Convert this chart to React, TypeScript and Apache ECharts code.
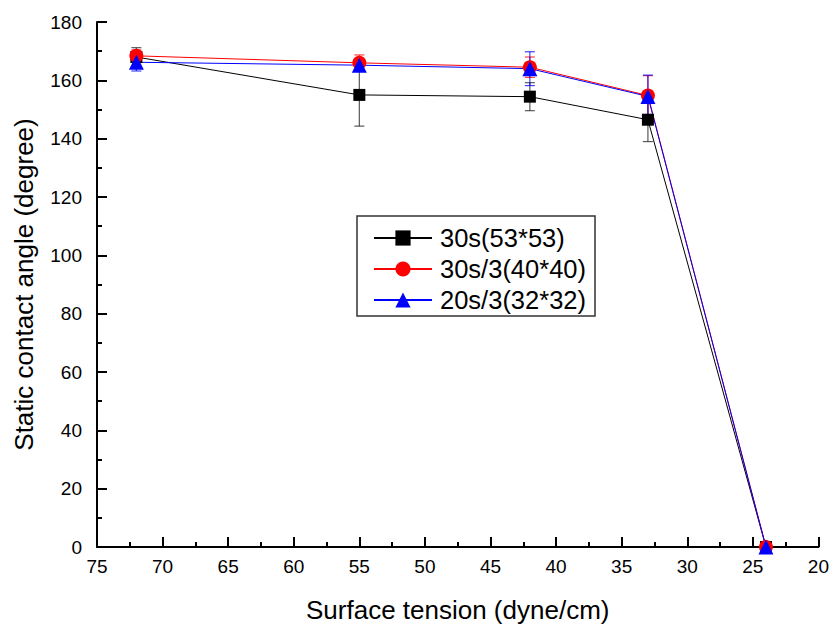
import React, { useEffect, useRef } from "react";
import * as echarts from "echarts";

const xValues = [72, 55, 42, 33, 24];
const blackY = [168, 155, 154.4, 146.5, 0];
const blackErr = [3.2, 10.7, 4.8, 7.5, 0];
const redY = [168.4, 166, 164.5, 154.8, 0];
const redErr = [2, 2.7, 3.5, 6.8, 0];
const blueY = [166.2, 165.2, 164, 154.5, 0];
const blueErr = [3, 2, 5.8, 7.3, 0];
const seriesNames = ["30s(53*53)", "30s/3(40*40)", "20s/3(32*32)"];

const FONT = "'Liberation Sans', Arial, sans-serif";

function pts(ys: number[]) {
  return xValues.map((x, i) => [x, ys[i]]);
}
function errPts(ys: number[], es: number[]) {
  return xValues.map((x, i) => [x, ys[i], ys[i] - es[i], ys[i] + es[i]]);
}

function errSeries(ys: number[], es: number[], color: string) {
  return {
    type: "custom",
    silent: true,
    z: 1,
    data: errPts(ys, es),
    renderItem: (params: any, api: any) => {
      const x = api.value(0);
      const lo = api.value(2);
      const hi = api.value(3);
      const pHi = api.coord([x, hi]);
      const pLo = api.coord([x, lo]);
      const half = 5;
      const style = { stroke: color, lineWidth: 1.2, opacity: 0.75 };
      return {
        type: "group",
        children: [
          { type: "line", shape: { x1: pHi[0], y1: pHi[1], x2: pLo[0], y2: pLo[1] }, style },
          { type: "line", shape: { x1: pHi[0] - half, y1: pHi[1], x2: pHi[0] + half, y2: pHi[1] }, style },
          { type: "line", shape: { x1: pLo[0] - half, y1: pLo[1], x2: pLo[0] + half, y2: pLo[1] }, style },
        ],
      };
    },
  };
}

export default function App() {
  const ref = useRef<HTMLDivElement>(null);
  useEffect(() => {
    document.body.style.margin = "0";
    const chart = echarts.init(ref.current!, null, { renderer: "svg" });
    const lineSeries = (name: string, ys: number[], color: string, symbol: string, size: number) => ({
      name,
      type: "line",
      data: pts(ys),
      symbol,
      symbolSize: size,
      z: 3,
      lineStyle: { color, width: 1 },
      itemStyle: { color },
    });
    chart.setOption({
      animation: false,
      backgroundColor: "#fff",
      grid: { left: 97, right: 13, top: 22, bottom: 84, containLabel: false },
      xAxis: {
        type: "value",
        inverse: true,
        min: 20,
        max: 75,
        interval: 5,
        name: "Surface tension (dyne/cm)",
        nameLocation: "middle",
        nameGap: 50,
        nameTextStyle: { fontSize: 26, color: "#000", fontFamily: FONT },
        axisLine: { show: true, lineStyle: { color: "#000", width: 2 } },
        axisTick: { show: true, inside: true, length: 10, lineStyle: { color: "#000", width: 2 } },
        minorTick: { show: true, splitNumber: 2, length: 5, lineStyle: { color: "#000", width: 2 } },
        axisLabel: { fontSize: 19, color: "#000", fontFamily: FONT, margin: 10 },
        splitLine: { show: false },
      },
      yAxis: {
        type: "value",
        min: 0,
        max: 180,
        interval: 20,
        name: "Static contact angle (degree)",
        nameLocation: "middle",
        nameRotate: 90,
        nameGap: 60,
        nameTextStyle: { fontSize: 26, color: "#000", fontFamily: FONT },
        axisLine: { show: true, lineStyle: { color: "#000", width: 2 } },
        axisTick: { show: true, inside: true, length: 10, lineStyle: { color: "#000", width: 2 } },
        minorTick: { show: true, splitNumber: 2, length: 5, lineStyle: { color: "#000", width: 2 } },
        axisLabel: { fontSize: 19, color: "#000", fontFamily: FONT, margin: 15 },
        splitLine: { show: false },
      },
      legend: {
        data: seriesNames,
        orient: "vertical",
        left: 357,
        top: 216,
        borderColor: "#333",
        borderWidth: 1.5,
        borderRadius: 0,
        padding: [9, 9, 3, 16],
        itemWidth: 58,
        itemHeight: 19,
        itemGap: 5,
        textStyle: { fontSize: 25.5, color: "#000", fontFamily: FONT, lineHeight: 26, padding: [0, 0, 0, 3] },
      },
      series: [
        errSeries(blackY, blackErr, "#222"),
        errSeries(redY, redErr, "#ff0000"),
        errSeries(blueY, blueErr, "#0000ff"),
        lineSeries(seriesNames[0], blackY, "#000000", "rect", 12),
        lineSeries(seriesNames[1], redY, "#ff0000", "circle", 14),
        lineSeries(seriesNames[2], blueY, "#0000ff", "triangle", 15),
      ],
    });
    return () => chart.dispose();
  }, []);
  return <div ref={ref} style={{ width: 832, height: 631 }} />;
}
